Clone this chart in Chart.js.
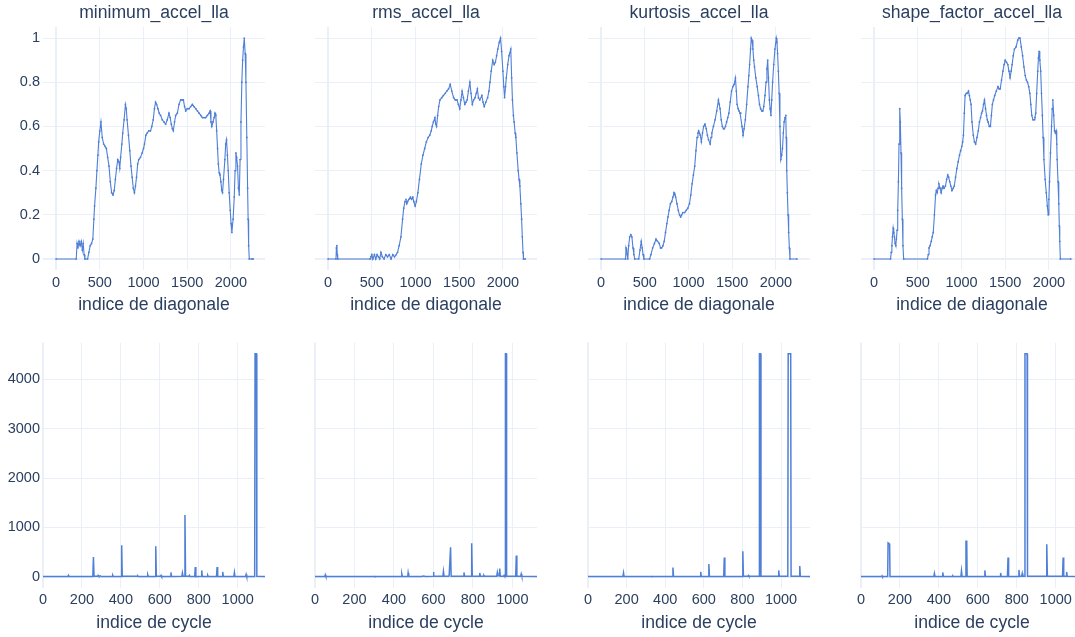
<!DOCTYPE html>
<html><head><meta charset="utf-8">
<script src="https://cdn.jsdelivr.net/npm/chart.js@4/dist/chart.umd.min.js"></script>
<style>
html,body{margin:0;padding:0;background:#fff;overflow:hidden;width:1075px;height:637px;position:relative}
canvas{position:absolute}
</style></head><body>
<script>
// ---------- labels / ticks ----------
const titles = ['minimum_accel_lla','rms_accel_lla','kurtosis_accel_lla','shape_factor_accel_lla'];
const diagTitle = 'indice de diagonale';
const cycleTitle = 'indice de cycle';
const diagTicks = [0,500,1000,1500,2000];
const featTicks = [0,0.2,0.4,0.6,0.8,1];
const cycleTicks = [0,200,400,600,800,1000];
const countTicks = [0,1000,2000,3000,4000];

// ---------- top row : value vs diagonal index ----------
const minDiagX = [0,230,240,250,262,275,288,300,310,320,330,360,375,390,405,420,432,440,455,467,478,487,500,513,528,544,560,575,590,605,620,635,651,665,678,692,705,718,728,738,752,762,778,793,803,812,828,843,857,870,883,896,908,920,933,946,965,985,1000,1011,1027,1042,1060,1080,1095,1111,1125,1138,1150,1165,1180,1195,1215,1234,1253,1272,1291,1305,1318,1330,1341,1355,1368,1387,1406,1425,1440,1456,1470,1483,1500,1521,1540,1559,1578,1598,1617,1636,1655,1674,1693,1712,1731,1751,1762,1772,1781,1795,1808,1818,1827,1837,1847,1856,1866,1875,1885,1895,1904,1915,1931,1940,1950,1960,1969,1980,1992,2002,2011,2025,2038,2048,2057,2066,2076,2086,2096,2105,2115,2125,2134,2144,2153,2163,2172,2182,2191,2197,2203,2210,2240,2255];
const minDiagY = [0,0,0.07,0.05,0.08,0.06,0.08,0.04,0.07,0.02,0,0,0.03,0.06,0.07,0.09,0.18,0.24,0.32,0.40,0.47,0.53,0.58,0.62,0.55,0.52,0.51,0.50,0.46,0.42,0.35,0.30,0.29,0.31,0.36,0.41,0.45,0.44,0.41,0.46,0.52,0.57,0.63,0.70,0.68,0.63,0.56,0.49,0.42,0.37,0.32,0.30,0.33,0.37,0.43,0.45,0.46,0.48,0.50,0.52,0.56,0.57,0.58,0.58,0.60,0.63,0.68,0.71,0.70,0.68,0.66,0.65,0.63,0.62,0.61,0.63,0.66,0.64,0.61,0.59,0.58,0.62,0.65,0.66,0.70,0.72,0.72,0.72,0.69,0.67,0.68,0.68,0.69,0.70,0.69,0.68,0.67,0.66,0.65,0.64,0.64,0.64,0.65,0.66,0.67,0.62,0.60,0.62,0.64,0.66,0.65,0.58,0.50,0.43,0.39,0.38,0.35,0.31,0.30,0.36,0.45,0.52,0.54,0.47,0.40,0.30,0.22,0.16,0.12,0.18,0.28,0.40,0.48,0.46,0.42,0.32,0.29,0.45,0.62,0.80,0.90,0.96,1.0,0.93,0.80,0.55,0.32,0.18,0.06,0,0,0];

const rmsDiagX = [0,90,95,100,105,110,480,490,500,512,530,545,560,575,590,605,620,640,660,680,700,720,740,760,780,794,813,833,852,865,880,891,900,910,925,942,955,969,980,996,1010,1027,1045,1066,1085,1105,1124,1145,1163,1180,1191,1205,1222,1232,1241,1253,1265,1280,1300,1319,1340,1358,1378,1397,1415,1436,1455,1475,1490,1506,1520,1533,1548,1564,1578,1591,1605,1622,1635,1650,1665,1681,1695,1708,1720,1735,1759,1772,1786,1805,1825,1840,1852,1866,1883,1900,1914,1928,1941,1958,1973,1985,2000,2010,2019,2030,2039,2055,2070,2090,2100,2109,2120,2128,2140,2148,2160,2175,2185,2194,2205,2214,2222,2230,2235,2255];
const rmsDiagY = [0,0,0.05,0.06,0.02,0,0,0.01,0.02,0,0.02,0,0.02,0.01,0,0.03,0.01,0,0.02,0.01,0.02,0,0.02,0.01,0.02,0.03,0.06,0.10,0.18,0.23,0.26,0.27,0.25,0.26,0.27,0.28,0.27,0.28,0.26,0.24,0.26,0.30,0.36,0.43,0.47,0.50,0.53,0.55,0.56,0.58,0.60,0.62,0.64,0.61,0.60,0.65,0.69,0.72,0.73,0.74,0.75,0.76,0.77,0.79,0.76,0.73,0.72,0.72,0.70,0.68,0.72,0.76,0.73,0.70,0.71,0.72,0.76,0.80,0.75,0.70,0.72,0.73,0.75,0.77,0.73,0.72,0.74,0.71,0.69,0.71,0.73,0.76,0.80,0.85,0.90,0.88,0.89,0.92,0.95,0.98,1.0,0.94,0.85,0.78,0.73,0.78,0.82,0.88,0.92,0.95,0.82,0.72,0.65,0.62,0.57,0.55,0.48,0.40,0.36,0.33,0.25,0.18,0.10,0.03,0,0];

const kurtDiagX = [0,280,285,292,298,305,315,327,340,352,365,375,385,430,445,459,470,480,490,555,570,590,610,628,645,665,680,692,707,722,737,752,765,778,793,808,822,834,845,853,868,883,897,910,922,936,955,974,992,1011,1026,1041,1056,1071,1085,1098,1108,1116,1125,1135,1147,1160,1173,1188,1203,1216,1229,1248,1258,1267,1285,1304,1323,1342,1352,1361,1374,1387,1400,1410,1423,1436,1449,1462,1477,1492,1507,1522,1537,1547,1556,1568,1579,1590,1598,1612,1624,1636,1650,1665,1680,1690,1699,1710,1718,1727,1737,1746,1755,1770,1786,1800,1812,1825,1838,1850,1861,1875,1887,1897,1906,1915,1925,1934,1943,1952,1962,1975,1989,2004,2012,2019,2028,2037,2046,2056,2066,2075,2085,2094,2104,2113,2118,2124,2131,2139,2146,2154,2161,2240];
const kurtDiagY = [0,0,0.05,0.04,0.02,0,0.06,0.10,0.11,0.10,0.05,0.02,0,0,0.04,0.08,0.05,0.02,0,0,0.02,0.05,0.07,0.09,0.08,0.07,0.05,0.05,0.06,0.08,0.12,0.16,0.19,0.22,0.25,0.26,0.28,0.30,0.29,0.28,0.25,0.22,0.20,0.19,0.20,0.21,0.21,0.22,0.23,0.25,0.29,0.34,0.38,0.42,0.49,0.55,0.57,0.58,0.57,0.56,0.53,0.57,0.60,0.61,0.59,0.56,0.54,0.52,0.55,0.57,0.60,0.63,0.67,0.72,0.70,0.68,0.63,0.60,0.59,0.59,0.60,0.62,0.64,0.66,0.71,0.76,0.78,0.79,0.82,0.76,0.70,0.68,0.67,0.66,0.66,0.60,0.56,0.59,0.63,0.70,0.78,0.83,0.88,0.95,1.0,0.99,0.95,0.90,0.87,0.82,0.78,0.74,0.70,0.68,0.67,0.67,0.69,0.74,0.80,0.86,0.90,0.82,0.72,0.68,0.65,0.72,0.80,0.88,0.95,1.0,0.98,0.93,0.85,0.75,0.60,0.45,0.47,0.50,0.57,0.62,0.64,0.65,0.55,0.40,0.30,0.20,0.12,0.05,0,0];

const shapeDiagX = [0,188,196,203,210,218,225,233,240,248,255,263,270,278,285,293,300,308,315,323,330,338,610,620,628,640,654,665,677,690,703,712,722,732,741,755,767,778,789,800,816,830,842,853,865,878,891,905,917,932,947,962,977,990,1004,1013,1022,1032,1041,1055,1068,1080,1090,1100,1109,1120,1135,1148,1162,1177,1192,1205,1218,1230,1240,1252,1263,1275,1286,1295,1304,1318,1331,1342,1353,1366,1380,1398,1417,1430,1443,1458,1474,1487,1500,1515,1530,1543,1556,1568,1579,1592,1605,1624,1643,1656,1669,1684,1699,1714,1729,1742,1755,1769,1782,1793,1804,1818,1831,1840,1849,1860,1872,1880,1887,1896,1906,1915,1925,1934,1943,1957,1970,1982,1992,2000,2007,2018,2030,2038,2045,2055,2064,2074,2083,2090,2094,2104,2113,2119,2124,2131,2250];
const shapeDiagY = [0,0,0.03,0.06,0.10,0.14,0.12,0.10,0.07,0.06,0.09,0.13,0.22,0.35,0.52,0.68,0.62,0.48,0.32,0.18,0.06,0,0,0.02,0.05,0.06,0.08,0.10,0.12,0.20,0.29,0.31,0.30,0.32,0.34,0.32,0.30,0.32,0.33,0.32,0.33,0.36,0.38,0.37,0.35,0.33,0.31,0.32,0.33,0.37,0.41,0.44,0.47,0.49,0.51,0.53,0.56,0.66,0.74,0.75,0.75,0.76,0.74,0.72,0.70,0.62,0.56,0.53,0.52,0.55,0.58,0.62,0.64,0.66,0.67,0.70,0.72,0.68,0.65,0.63,0.62,0.60,0.60,0.65,0.70,0.72,0.74,0.76,0.78,0.77,0.77,0.81,0.85,0.88,0.90,0.89,0.88,0.85,0.82,0.85,0.88,0.92,0.95,0.96,0.99,1.0,1.0,0.96,0.92,0.87,0.83,0.81,0.80,0.78,0.75,0.70,0.65,0.63,0.63,0.64,0.66,0.75,0.85,0.91,0.94,0.90,0.85,0.75,0.65,0.55,0.45,0.36,0.30,0.24,0.20,0.27,0.35,0.48,0.60,0.68,0.72,0.65,0.58,0.57,0.58,0.52,0.45,0.35,0.25,0.15,0.08,0,0];

// ---------- bottom row : value vs cycle index ----------
const minCycX = [0,128,131,134,256,259,262,280,283,287,295,298,355,358,361,401,404,407,484,487,490,535,538,541,576,579,582,603,606,609,654,657,660,713,716,719,726,729,732,749,752,755,779,782,785,812,815,818,843,846,849,891,894,897,920,923,926,980,983,986,1040,1043,1046,1087,1089,1096,1098,1140];
const minCycY = [5,5,30,5,5,400,10,10,30,10,20,5,5,30,5,5,640,10,10,20,5,5,40,5,5,620,10,10,30,5,5,90,5,10,80,10,10,1250,10,10,30,5,5,200,5,10,130,5,5,30,5,5,200,5,5,100,5,5,90,5,5,50,5,5,4520,4520,10,5];

const rmsCycX = [0,50,52,55,298,300,302,438,440,443,470,472,475,540,550,560,598,600,603,648,651,654,678,680,684,687,690,752,755,758,791,794,797,832,835,838,853,856,859,921,924,927,933,936,939,955,958,961,963,965,969,971,1017,1020,1023,1042,1045,1048,1125];
const rmsCycY = [5,5,40,5,5,10,5,5,60,5,5,80,5,5,15,5,10,100,10,10,110,10,10,30,30,600,10,10,90,10,10,680,10,10,80,10,10,30,10,10,90,20,20,170,10,10,30,10,10,4520,4520,10,10,430,10,10,60,10,5];

const kurtCycX = [0,181,184,187,325,327,330,437,440,443,581,584,587,623,626,629,703,706,709,799,802,805,828,831,834,886,888,894,896,985,988,991,1035,1037,1050,1052,1094,1097,1100,1150];
const kurtCycY = [5,5,80,5,5,10,5,5,190,5,5,100,5,5,260,5,5,390,5,5,520,10,10,30,10,10,4520,4520,10,10,130,10,10,4520,4520,10,10,220,10,5];

const shapeCycX = [0,106,108,110,137,139,143,147,149,374,377,380,417,420,423,470,472,475,513,516,519,537,539,543,545,633,636,639,714,717,720,752,755,758,808,811,814,825,828,831,840,842,853,855,951,954,957,1035,1038,1041,1053,1056,1059,1140];
const shapeCycY = [5,5,20,5,5,690,680,660,5,5,70,5,5,90,5,5,20,5,5,120,5,5,720,720,5,5,130,5,5,80,5,5,390,5,5,140,10,10,70,10,10,4520,4520,10,10,660,10,10,390,10,10,100,10,5];

// ---------- styling ----------
const TEXT = '#2a3f5f';
const GRID = '#ebf0f8';
const LINE = '#4f7fd6';
const FONT = "'Liberation Sans', Arial, sans-serif";
Chart.defaults.font.family = FONT;
Chart.defaults.color = TEXT;

const SIDE = 45;         // y-label band on the left, mirrored by an empty band on the right
const EDGE = 5;
const AREA_W = 222;
const colLeft = [43, 315, 588, 861];

const topSeries = [[minDiagX,minDiagY],[rmsDiagX,rmsDiagY],[kurtDiagX,kurtDiagY],[shapeDiagX,shapeDiagY]];
const botSeries = [[minCycX,minCycY],[rmsCycX,rmsCycY],[kurtCycX,kurtCycY],[shapeCycX,shapeCycY]];
const botXMax = [1140,1125,1150,1140];

function pts(xs, ys){ return xs.map((x,i)=>({x:x, y:ys[i]})); }

function make(cfg){
  const c = document.createElement('canvas');
  const off = SIDE + EDGE;
  c.width = AREA_W + 2*off; c.height = cfg.h;
  c.style.left = (cfg.left - off) + 'px'; c.style.top = cfg.top + 'px';
  c.style.width = c.width + 'px'; c.style.height = c.height + 'px';
  document.body.appendChild(c);
  new Chart(c.getContext('2d'), {
    type: 'scatter',
    data: {datasets: [{data: cfg.data, showLine: true, borderColor: LINE, backgroundColor: LINE,
      borderWidth: cfg.lw, pointRadius: cfg.pr, pointBorderWidth: 0, tension: 0, fill: false}]},
    options: {
      responsive: false, animation: false, devicePixelRatio: 1,
      layout: {padding: {left: EDGE, right: EDGE, top: cfg.padTop, bottom: 0}},
      plugins: {
        legend: {display: false}, tooltip: {enabled: false},
        title: {display: !!cfg.title, text: cfg.title || '', color: TEXT,
          font: {size: 17.6, weight: 'normal', family: FONT}, padding: {top: 2.5, bottom: 3.4}}
      },
      scales: {
        x: {type: 'linear', min: cfg.xmin, max: cfg.xmax,
          afterBuildTicks: s => { s.ticks = cfg.xt.map(v => ({value: v})); },
          afterFit: s => { s.height = cfg.xh; },
          grid: {color: GRID, drawTicks: false, lineWidth: ctx => (ctx.tick && ctx.tick.value === 0) ? 2 : 1},
          border: {display: false},
          ticks: {padding: cfg.tp, color: TEXT, font: {size: 14.5}, maxRotation: 0, autoSkip: false,
            callback: v => String(v)},
          title: {display: true, text: cfg.xtitle, color: TEXT, font: {size: 17.6}, padding: {top: 0, bottom: cfg.tpb}}
        },
        y: {type: 'linear', position: 'left', min: cfg.ymin, max: cfg.ymax,
          afterBuildTicks: s => { s.ticks = cfg.yt.map(v => ({value: v})); },
          afterFit: s => { s.width = SIDE; },
          grid: {color: GRID, drawTicks: false, lineWidth: ctx => (ctx.tick && ctx.tick.value === 0) ? 2 : 1},
          border: {display: false},
          ticks: {display: cfg.showY, padding: 3, color: TEXT, font: {size: 14.5}, callback: v => String(v)}
        },
        yPad: {type: 'linear', position: 'right', display: true,
          afterFit: s => { s.width = SIDE; },
          grid: {display: false}, border: {display: false}, ticks: {display: false}
        }
      }
    }
  });
}

for (let i = 0; i < 4; i++) {
  make({left: colLeft[i], top: 0, h: 320, padTop: 0, title: titles[i],
    data: pts(topSeries[i][0], topSeries[i][1]), lw: 1.1, pr: 0.9,
    xmin: -150, xmax: 2390, xt: diagTicks, xh: 50, tp: 4.5, tpb: 4.5, xtitle: diagTitle,
    ymin: -0.05, ymax: 1.05, yt: featTicks, showY: i === 0});
  make({left: colLeft[i], top: 330, h: 307, padTop: 12.5, title: null,
    data: pts(botSeries[i][0], botSeries[i][1]), lw: 1.5, pr: 0,
    xmin: 0, xmax: botXMax[i], xt: cycleTicks, xh: 49, tp: 3.5, tpb: 3.5, xtitle: cycleTitle,
    ymin: -226, ymax: 4746, yt: countTicks, showY: i === 0});
}
</script>
</body></html>
